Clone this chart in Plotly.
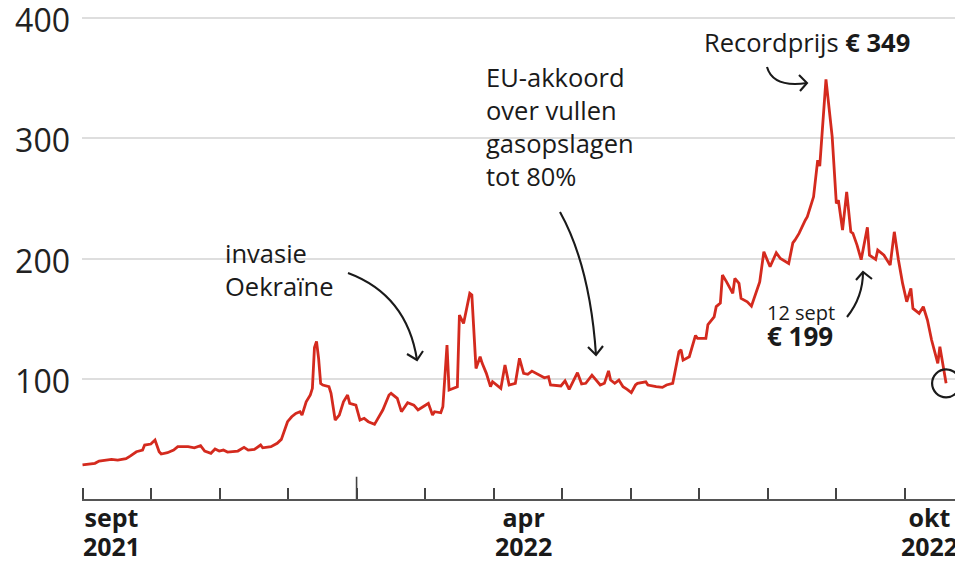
import plotly.graph_objects as go
import pandas as pd

# ---- data ----
dates = [
    "2021-09-01", "2021-09-07", "2021-09-09", "2021-09-15", "2021-09-18", "2021-09-22", "2021-09-24",
    "2021-09-27", "2021-09-30", "2021-10-01", "2021-10-04", "2021-10-06", "2021-10-08", "2021-10-09",
    "2021-10-12", "2021-10-15", "2021-10-17", "2021-10-22", "2021-10-25", "2021-10-28", "2021-10-30",
    "2021-11-02", "2021-11-04", "2021-11-06", "2021-11-08", "2021-11-10", "2021-11-15", "2021-11-18",
    "2021-11-20", "2021-11-23", "2021-11-26", "2021-11-27", "2021-12-01", "2021-12-04", "2021-12-06",
    "2021-12-07", "2021-12-09", "2021-12-11", "2021-12-13", "2021-12-15", "2021-12-16", "2021-12-18",
    "2021-12-20", "2021-12-21", "2021-12-22", "2021-12-23", "2021-12-24", "2021-12-25", "2021-12-26",
    "2021-12-29", "2021-12-30", "2022-01-01", "2022-01-03", "2022-01-05", "2022-01-07", "2022-01-08",
    "2022-01-11", "2022-01-13", "2022-01-15", "2022-01-17", "2022-01-20", "2022-01-24", "2022-01-27",
    "2022-01-28", "2022-01-31", "2022-02-02", "2022-02-05", "2022-02-08", "2022-02-10", "2022-02-13",
    "2022-02-15", "2022-02-17", "2022-02-18", "2022-02-21", "2022-02-22", "2022-02-24", "2022-02-25",
    "2022-03-01", "2022-03-02", "2022-03-04", "2022-03-07", "2022-03-08", "2022-03-10", "2022-03-12",
    "2022-03-13", "2022-03-15", "2022-03-17", "2022-03-18", "2022-03-22", "2022-03-24", "2022-03-26",
    "2022-03-29", "2022-03-31", "2022-04-02", "2022-04-04", "2022-04-06", "2022-04-09", "2022-04-12",
    "2022-04-14", "2022-04-15", "2022-04-20", "2022-04-22", "2022-04-24", "2022-04-28", "2022-04-30",
    "2022-05-02", "2022-05-05", "2022-05-09", "2022-05-11", "2022-05-13", "2022-05-14", "2022-05-16",
    "2022-05-18", "2022-05-20", "2022-05-22", "2022-05-24", "2022-05-26", "2022-05-27", "2022-05-31",
    "2022-06-01", "2022-06-05", "2022-06-08", "2022-06-10", "2022-06-13", "2022-06-16", "2022-06-17",
    "2022-06-18", "2022-06-21", "2022-06-24", "2022-06-25", "2022-06-29", "2022-06-30", "2022-07-03",
    "2022-07-04", "2022-07-06", "2022-07-07", "2022-07-09", "2022-07-12", "2022-07-13", "2022-07-15",
    "2022-07-16", "2022-07-19", "2022-07-21", "2022-07-25", "2022-07-27", "2022-07-30", "2022-08-02",
    "2022-08-04", "2022-08-08", "2022-08-10", "2022-08-11", "2022-08-13", "2022-08-16", "2022-08-17",
    "2022-08-20", "2022-08-22", "2022-08-23", "2022-08-26", "2022-08-29", "2022-08-31", "2022-09-01",
    "2022-09-03", "2022-09-05", "2022-09-07", "2022-09-08", "2022-09-10", "2022-09-12", "2022-09-15",
    "2022-09-16", "2022-09-19", "2022-09-20", "2022-09-23", "2022-09-26", "2022-09-28", "2022-09-30",
    "2022-10-02", "2022-10-04", "2022-10-06", "2022-10-07", "2022-10-10", "2022-10-12", "2022-10-14",
    "2022-10-16", "2022-10-19", "2022-10-20", "2022-10-22", "2022-10-23",
]
prices = [
    28.3, 29.7, 31.6, 33.0, 32.4, 33.5, 35.7,
    39.3, 40.7, 44.9, 45.7, 49.0, 39.3, 37.4,
    38.5, 40.7, 43.5, 43.5, 42.6, 44.3, 39.9,
    38.0, 41.6, 39.9, 40.7, 39.0, 39.9, 43.0,
    40.7, 41.3, 44.9, 42.6, 43.5, 46.3, 49.6,
    55.0, 64.3, 68.4, 71.2, 72.6, 69.8, 80.9,
    86.5, 92.0, 126.0, 131.0, 117.0, 96.0, 94.8,
    93.4, 87.9, 65.7, 69.8, 80.9, 86.5, 79.5,
    78.1, 65.7, 67.1, 64.3, 62.1, 74.0, 86.5,
    87.9, 83.7, 72.6, 80.0, 78.1, 74.0, 77.3,
    79.5, 69.8, 72.6, 71.7, 76.7, 128.0, 90.6,
    93.4, 153.0, 146.0, 171.0, 169.6, 108.6, 118.3,
    112.8, 104.5, 93.4, 97.5, 92.0, 111.4, 94.8,
    96.2, 117.0, 104.5, 103.7, 106.4, 103.7, 100.8,
    101.7, 94.8, 94.0, 98.3, 91.2, 105.0, 95.6,
    96.2, 103.0, 94.8, 96.2, 106.6, 98.9, 96.2,
    98.9, 93.4, 91.2, 88.4, 94.8, 96.2, 97.5,
    94.8, 93.4, 92.8, 94.8, 96.2, 122.4, 124.0,
    115.5, 118.3, 136.0, 133.6, 133.6, 145.0, 151.5,
    160.0, 163.0, 186.2, 180.6, 171.0, 183.5, 179.3,
    166.8, 164.0, 160.4, 180.6, 205.6, 193.1, 204.7,
    200.0, 195.9, 213.0, 215.3, 220.9, 231.9, 234.7,
    251.3, 281.8, 276.8, 349.0, 301.2, 245.8, 248.5,
    223.6, 255.4, 222.2, 220.9, 211.1, 199.0, 226.0,
    202.8, 199.3, 207.0, 202.8, 194.5, 222.2, 198.7,
    179.3, 164.0, 175.1, 158.5, 154.4, 159.9, 148.8,
    132.2, 112.8, 126.6, 104.5, 96.2,
]

y_ticks = [100, 200, 300, 400]
label_dates = ["2021-09-15", "2022-04-02", "2022-10-15"]
month_labels = ["sept", "apr", "okt"]
year_labels = ["2021", "2022", "2022"]
tick_marks = list(pd.date_range("2021-09-01", "2022-10-03", periods=13))
x_range = ["2021-08-31 18:00", "2022-10-31 04:00"]

FONT = "Open Sans"
INK = "#1a1a1a"
RED = "#d42a1e"

# the page adds an 8px body margin, so the figure is 8px smaller than the window
OFF = 8
W, H = 963 - OFF, 563 - OFF
L, R, T, B = 82 - OFF, 0, 12 - OFF, 64
PW, PH = W - L - R, H - T - B


def px(x):  # window pixel -> paper
    return (x - OFF - L) / PW


def py(y):
    return (H - B - (y - OFF)) / PH


BIG = "<span style='font-size:25px'>{}</span>"
x_text = [f"<b>{BIG.format(m)}<br>{BIG.format(y)}</b>" for m, y in zip(month_labels, year_labels)]

fig = go.Figure()
fig.add_trace(go.Scatter(x=dates, y=prices, mode="lines",
                         line=dict(color=RED, width=2.8), hoverinfo="skip",
                         showlegend=False))
fig.add_trace(go.Scatter(x=[dates[-1]], y=[prices[-1]], mode="markers",
                         marker=dict(symbol="circle-open", size=28, color=INK,
                                     line=dict(color=INK, width=2.2)),
                         showlegend=False, hoverinfo="skip", cliponaxis=False))

fig.update_layout(
    width=W, height=H,
    margin=dict(l=L, r=R, t=T, b=B, autoexpand=False),
    paper_bgcolor="white", plot_bgcolor="white",
    font=dict(family=FONT, color=INK),
    xaxis=dict(type="date", range=x_range, tickmode="array", automargin=False,
               tickvals=label_dates, ticktext=x_text, ticks="",
               showgrid=False, zeroline=False, showline=True,
               linecolor="#555", linewidth=2, ticklabeloverflow="allow",
               tickfont=dict(family=FONT, size=22, color=INK),
               ticklabelstandoff=0,
               minor=dict(tickmode="array", tickvals=tick_marks, ticks="inside",
                          ticklen=11, tickwidth=1.6, tickcolor="#444",
                          showgrid=False)),
    yaxis=dict(range=[0, 405], tickmode="array", tickvals=y_ticks, automargin=False,
               showgrid=True, gridcolor="#dedede", gridwidth=1.5,
               zeroline=False, showline=False, ticks="", ticklabeloverflow="allow",
               tickfont=dict(family=FONT, size=32, color="#222"),
               ticklabelstandoff=11, ticklabelshift=3),
)

# tall tick at the turn of the year
fig.add_shape(type="line", xref="x", yref="y", x0=tick_marks[4], x1=tick_marks[4],
              y0=0, y1=18.5, line=dict(color="#444", width=1.6))


# text annotations
def note(x, y, text, size=25.5):
    fig.add_annotation(xref="paper", yref="paper", x=px(x), y=py(y), text=text,
                       showarrow=False, xanchor="left", yanchor="middle",
                       align="left", font=dict(family=FONT, size=size, color=INK))


note(702, 42, "Recordprijs <b>€ 349</b>")
note(223, 269, "invasie<br>Oekraïne")
note(484, 126, "EU-akkoord<br>over vullen<br>gasopslagen<br>tot 80%")
note(765, 326, "12 sept<br><b><span style='font-size:26px'>€ 199</span></b>", size=20)


def curve(p0, c, p1, wing1, wing2):
    d = (f"M {px(p0[0])},{py(p0[1])} Q {px(c[0])},{py(c[1])} {px(p1[0])},{py(p1[1])}")
    head = (f"M {px(wing1[0])},{py(wing1[1])} L {px(p1[0])},{py(p1[1])} "
            f"L {px(wing2[0])},{py(wing2[1])}")
    for path in (d, head):
        fig.add_shape(type="path", xref="paper", yref="paper", path=path,
                      line=dict(color=INK, width=2.1), fillcolor="rgba(0,0,0,0)")


curve((767, 67), (773, 88), (807, 83), (799, 75), (800, 91))
curve((348, 273), (407, 295), (417, 360), (407, 354), (423, 351))
curve((560, 212), (590, 266), (596, 355), (588, 347), (603, 346))
curve((847, 317), (863, 297), (863, 272), (856, 280), (872, 279))

fig.write_html("out.html")
